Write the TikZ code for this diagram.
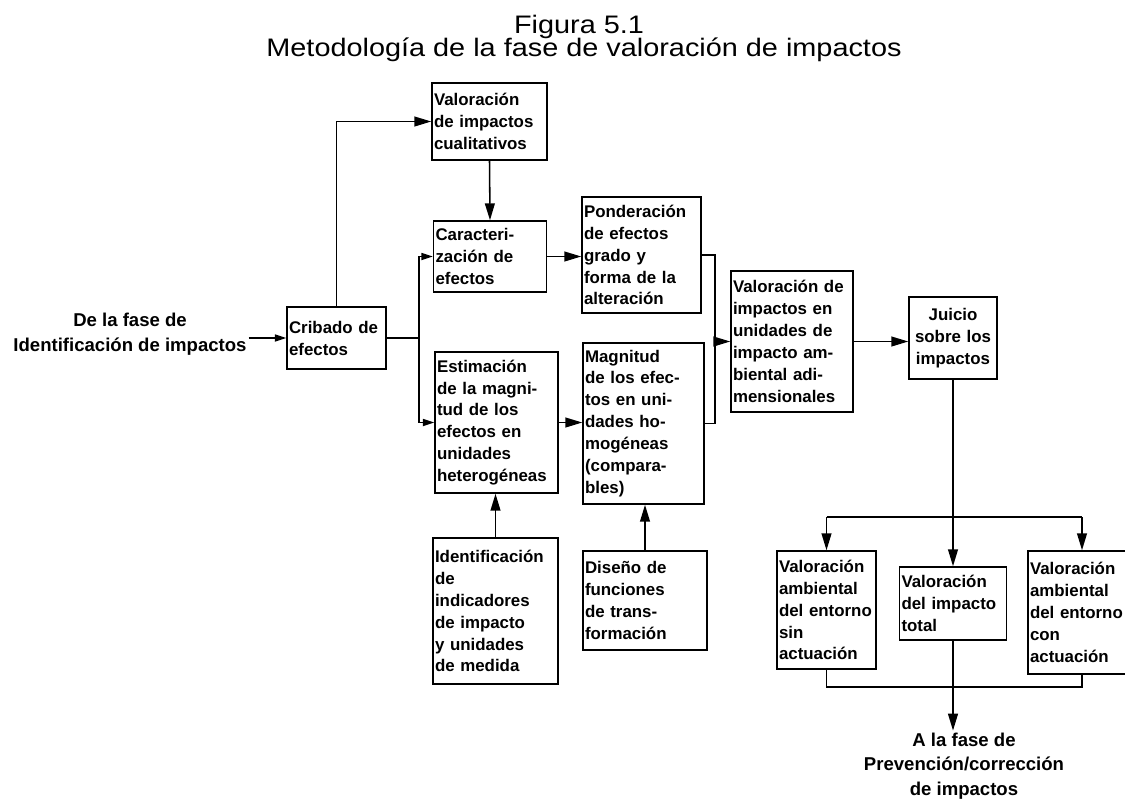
\documentclass[tikz,border=0pt]{standalone}
\usepackage{fontspec}
\setmainfont{Liberation Sans}
\newfontfamily\titfam[FakeStretch=1.14]{Liberation Sans}
\usepackage{tikz}
\usetikzlibrary{arrows.meta}

\newcommand\cajafont{\fontsize{12}{15.6}\selectfont\bfseries\hyphenpenalty=10000 }
\newcommand\rotfont{\fontsize{13.2}{17.5}\selectfont\bfseries}
\newcommand\titfont{\titfam\fontsize{18}{22}\selectfont}

\begin{document}
\begin{tikzpicture}[x=0.025cm,y=-0.025cm,line width=1.1pt,
  >={Triangle[length=12pt,width=7pt]},
  caja/.style 2 args={draw,align=left,font=\cajafont,inner xsep=0.05cm,inner ysep=2pt,
    text width=#1*0.025cm-0.1cm,minimum height=#2*0.025cm},
  rotulo/.style={align=center,font=\rotfont,inner sep=1pt},
  chica/.style={-{Triangle[length=8pt,width=5pt]}}]
\useasboundingbox (0,0) rectangle (1125,798);
% titulo
\node[font=\titfont,anchor=base,inner sep=0pt] (tit1) at (579,33) {Figura 5.1};
\node[font=\titfont,anchor=base,inner sep=0pt] (tit2) at (584,56) {Metodología de la fase de valoración de impactos};
% cajas
\node[rotulo] (src) at (130,334) {De la fase de\\Identificación de impactos};
\node[caja={99}{62}] (crib) at (336.5,338) {Cribado de\\efectos};
\node[caja={115}{77}] (cual) at (489.5,121.5) {Valoración\\de impactos\\cualitativos};
\node[caja={113}{71}] (car) at (490,256.5) {Caracteri-\\zación de\\efectos};
\node[caja={123}{141}] (est) at (496.5,422.5) {Estimación\\de la magni-\\tud de los\\efectos en\\unidades\\heterogéneas};
\node[caja={119}{116}] (pond) at (641.5,255) {Ponderación\\de efectos\\grado y\\forma de la\\alteración};
\node[caja={121}{161}] (mag) at (643.5,423.5) {Magnitud\\de los efec-\\tos en uni-\\dades ho-\\mogéneas\\(compara-\\bles)};
\node[caja={125}{146}] (ident) at (495.5,611) {Identificación\\de\\indicadores\\de impacto\\y unidades\\de medida};
\node[caja={124}{99}] (dis) at (645,600.5) {Diseño de\\funciones\\de trans-\\formación};
\node[caja={122}{141}] (vimp) at (792,341.5) {Valoración de\\impactos en\\unidades de\\impacto am-\\biental adi-\\mensionales};
\node[caja={88}{82},align=center] (juicio) at (953,338) {Juicio\\sobre los\\impactos};
\node[caja={99}{118}] (sin) at (826.5,610) {Valoración\\ambiental\\del entorno\\sin\\actuación};
\node[caja={107}{73}] (total) at (953,603.5) {Valoración\\del impacto\\total};
\node[caja={108}{123}] (con) at (1082,612.5) {Valoración\\ambiental\\del entorno\\con\\actuación};
\node[rotulo] (dst) at (964,766) {A la fase de\\Prevención/corrección\\de impactos};
% puntos de union
\coordinate (sp) at (419,338);
\coordinate (jn) at (715,341.5);
\coordinate (br) at (953,517);
\coordinate (mg) at (953,687);
% conectores
\draw[chica] (src.east |- crib.west) -- (crib.west);
\draw[->] (crib.north) |- (cual.west);
\draw (crib.east) -- (sp);
\draw[chica] (sp) |- (car.west);
\draw[chica] (sp) |- (est.west);
\draw[->] (cual.south) -- (car.north);
\draw[->] (car.east) -- (pond.west |- car.east);
\draw[->] (est.east) -- (mag.west |- est.east);
\draw[->] (ident.north) -- (ident.north |- est.south);
\draw[->] (dis.north) -- (dis.north |- mag.south);
\draw (pond.east) -| (jn);
\draw (mag.east) -| (jn);
\draw[->] (jn) -- (vimp.west);
\draw[->] (vimp.east) -- (juicio.west |- vimp.east);
\draw[->] (juicio.south) -- (total.north);
\draw (sin.north |- br) -- (con.north |- br);
\draw[->] (sin.north |- br) -- (sin.north);
\draw[->] (con.north |- br) -- (con.north);
\draw (sin.south) |- (mg) -| (con.south);
\draw[->] (total.south) -- (total.south |- dst.north);
\end{tikzpicture}
\end{document}
